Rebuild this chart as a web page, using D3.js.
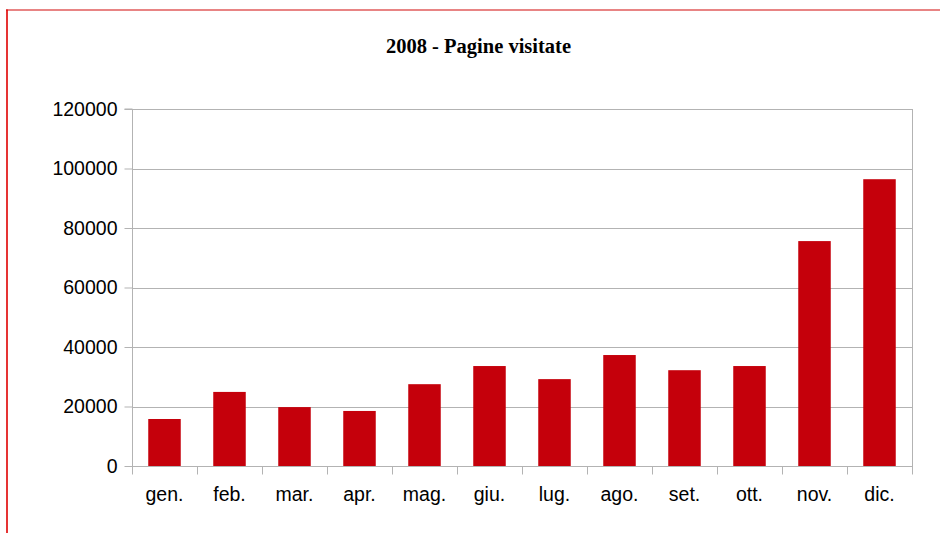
<!DOCTYPE html>
<html>
<head>
<meta charset="utf-8">
<script src="https://cdn.jsdelivr.net/npm/d3@7/dist/d3.min.js"></script>
<style>
  html, body { margin: 0; padding: 0; background: #fff; }
  svg { display: block; }
</style>
</head>
<body>
<svg id="chart" width="940" height="533"></svg>
<script>
const title = "2008 - Pagine visitate";
const categories = ["gen.", "feb.", "mar.", "apr.", "mag.", "giu.", "lug.", "ago.", "set.", "ott.", "nov.", "dic."];
const values = [15800, 24900, 19800, 18500, 27500, 33600, 29200, 37300, 32200, 33600, 75600, 96400];
const yTicks = [0, 20000, 40000, 60000, 80000, 100000, 120000];

const svg = d3.select("#chart");
const W = 940, H = 533;
const m = { left: 132, right: 912, top: 109, bottom: 466 };

// Border
svg.append("line").attr("x1", 6).attr("x2", W).attr("y1", 10).attr("y2", 10)
  .attr("stroke", "#e88484").attr("stroke-width", 2);
svg.append("line").attr("x1", 7).attr("x2", 7).attr("y1", 9.5).attr("y2", H)
  .attr("stroke", "#e00000").attr("stroke-width", 1.6);

const x = d3.scaleBand().domain(categories).range([m.left, m.right]).paddingInner(0.5).paddingOuter(0.25);
const y = d3.scaleLinear().domain([0, 120000]).range([m.bottom, m.top]);

// Gridlines
svg.append("g").selectAll("line").data(yTicks).join("line")
  .attr("x1", m.left).attr("x2", m.right)
  .attr("y1", d => Math.round(y(d)) + 0.5).attr("y2", d => Math.round(y(d)) + 0.5)
  .attr("stroke", "#b3b3b3").attr("stroke-width", 1);

// right border of plot
svg.append("line").attr("x1", m.right + 0.5).attr("x2", m.right + 0.5)
  .attr("y1", m.top).attr("y2", m.bottom + 8)
  .attr("stroke", "#b3b3b3").attr("stroke-width", 1);

// Bars
svg.append("g").selectAll("rect").data(values).join("rect")
  .attr("x", (d, i) => x(categories[i]))
  .attr("width", x.bandwidth())
  .attr("y", d => y(d))
  .attr("height", d => y(0) - y(d))
  .attr("fill", "#c5000b");

// Y axis
const yAxis = d3.axisLeft(y).tickValues(yTicks).tickSize(8).tickPadding(7).tickFormat(d3.format("d"));
const gy = svg.append("g").attr("transform", `translate(${m.left + 0.5},0)`).call(yAxis);
gy.select(".domain").attr("stroke", "#b3b3b3").attr("d", `M-8,${m.top}H0V${m.bottom + 8}`);
gy.selectAll(".tick line").attr("stroke", "#b3b3b3");
gy.selectAll(".tick text").attr("fill", "#000")
  .style("font-family", "'Liberation Sans', Arial, sans-serif").style("font-size", "19.5px");

// X axis with ticks at band boundaries
const gx = svg.append("g").attr("transform", `translate(0,${Math.round(y(0)) + 0.5})`);
gx.append("line").attr("x1", m.left).attr("x2", m.right).attr("stroke", "#b3b3b3");
const boundaries = d3.range(categories.length + 1).map(i => m.left + i * (m.right - m.left) / categories.length);
gx.selectAll("line.tk").data(boundaries).join("line").attr("class", "tk")
  .attr("x1", d => Math.round(d) + 0.5).attr("x2", d => Math.round(d) + 0.5)
  .attr("y1", 0).attr("y2", 8).attr("stroke", "#b3b3b3");
gx.selectAll("text").data(categories).join("text")
  .attr("x", d => x(d) + x.bandwidth() / 2)
  .attr("y", 34)
  .attr("text-anchor", "middle")
  .attr("fill", "#000")
  .style("font-family", "'Liberation Sans', Arial, sans-serif").style("font-size", "19.5px")
  .text(d => d);

// Title
svg.append("text").attr("x", 478.5).attr("y", 53)
  .attr("text-anchor", "middle")
  .style("font-family", "'Liberation Serif', 'Times New Roman', serif")
  .style("font-weight", "bold").style("font-size", "20.5px")
  .text(title);
</script>
</body>
</html>
